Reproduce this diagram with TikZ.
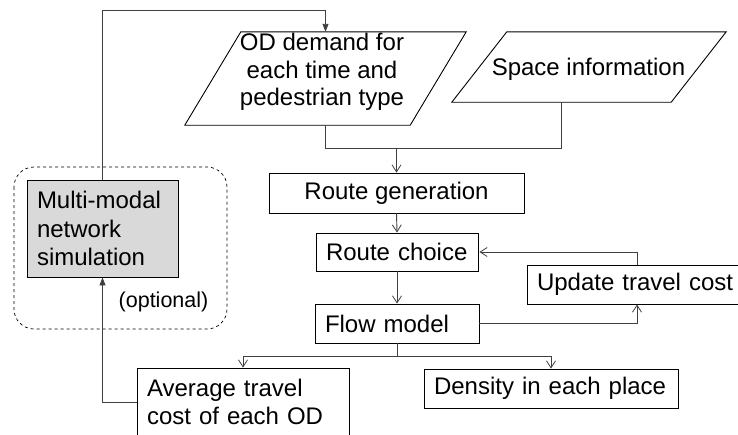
\documentclass[tikz,border=0pt]{standalone}
\usepackage{fontspec}
\setmainfont{Liberation Sans}
\usetikzlibrary{arrows.meta,calc}
\begin{document}
\begin{tikzpicture}[x=1pt,y=-1pt,
  font=\fontsize{24}{27.5}\selectfont,
  box/.style={draw=black,line width=0.9pt,rectangle,inner xsep=10pt,inner ysep=0pt,align=left},
  para/.style={rectangle,inner sep=0pt,align=center},
  conn/.style={draw=black!75,line width=0.9pt},
  open/.style={conn,-{Straight Barb[length=7pt,width=9pt,line width=0.8pt]}},
  filled/.style={conn,-{Triangle[length=8pt,width=6pt]}}]
\useasboundingbox (0,0) rectangle (738,434);
\clip (0,0) rectangle (738,434);
\fill[white] (0,0) rectangle (738,434);

% input parallelograms
\node[para,minimum width=281pt,minimum height=93pt] (od) at (325.5,78.5) {};
\node[para] (odtext) at (322,72) {OD demand for\\each time and\\pedestrian type};
\draw[line width=0.9pt] (od.south west) -- ($(od.south east)+(-56,0)$) -- (od.north east) -- ($(od.north west)+(56,0)$) -- cycle;

\node[para,minimum width=274pt,minimum height=70pt] (sp) at (589,67) {};
\node[para] (sptext) at (588.5,69) {Space information};
\draw[line width=0.9pt] (sp.south west) -- ($(sp.south east)+(-55,0)$) -- (sp.north east) -- ($(sp.north west)+(55,0)$) -- cycle;
\coordinate (spb) at ($(sp.south)+(-27.5,0)$);

% process boxes
\node[box,align=center,minimum width=255pt,minimum height=40pt] (rg) at (396.5,193) {Route generation};
\node[box,text width=142pt,minimum height=38pt] (rc) at (397,252) {Route choice};
\node[box,text width=144pt,minimum height=39pt] (fm) at (397,323.5) {Flow model};
\node[box,text width=200pt,minimum height=39pt] (ut) at (637,284.5) {Update travel cost};
\node[box,text width=234pt,minimum height=39pt] (de) at (551,388.5) {Density in each place};
\node[box,text width=192pt,minimum height=68pt] (av) at (243,402) {Average travel\\cost of each OD};

% optional simulation
\draw[dashed,line width=0.7pt,rounded corners=20pt] (14,167) rectangle (227,329);
\node[box,fill=black!15,text width=131pt,minimum height=97pt,font=\fontsize{24}{28.5}\selectfont] (mm) at (102.5,228.5) {Multi-modal\\network\\simulation};
\node[inner sep=0pt,font=\fontsize{21.5}{25}\selectfont] (opt) at (163.5,302) {(optional)};

% connectors
\coordinate (j) at (396.5,148);
\draw[conn] (od.south) |- (j);
\draw[conn] (spb) |- (j);
\draw[open] (j) -- (rg.north);
\draw[open] (rg.south) -- (rc.north);
\draw[open] (rc.south) -- (fm.north);
\draw[open] (fm.east) -| (ut.south);
\draw[open] (ut.north) |- ($(rc.east)+(1,0)$);
\coordinate (k) at ($(fm.south)+(0,13)$);
\draw[conn] (fm.south) -- (k);
\draw[open] (k) -| (av.north);
\draw[open] (k) -| (de.north);
\draw[filled] (av.west) -| (mm.south);
\coordinate (top) at ($(mm.north)+(0,-169)$);
\draw[filled] (mm.north) -- (top) -| (od.north);
\end{tikzpicture}
\end{document}
